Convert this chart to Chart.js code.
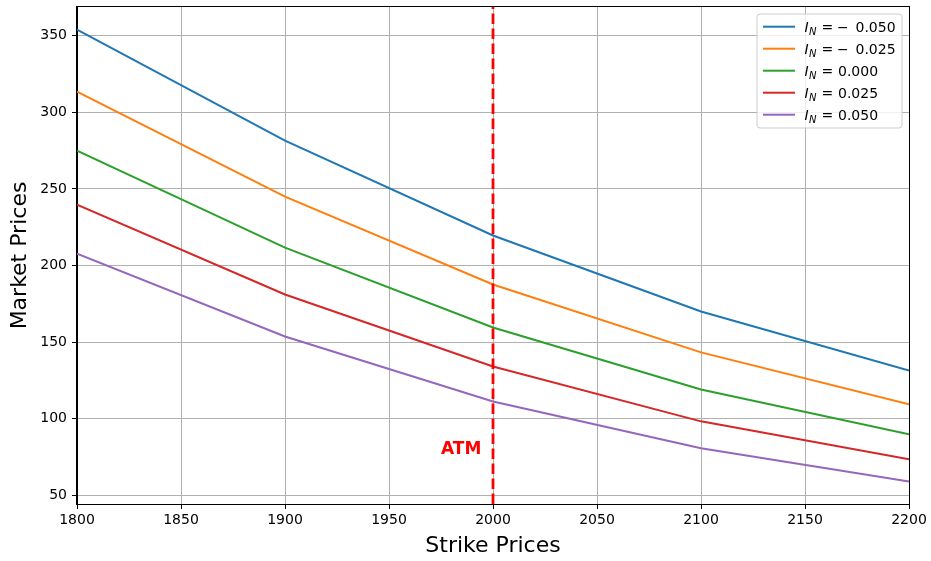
<!DOCTYPE html>
<html>
<head>
<meta charset="utf-8">
<script src="https://cdn.jsdelivr.net/npm/chart.js@4/dist/chart.umd.min.js"></script>
<style>
  html, body { margin: 0; padding: 0; background: #ffffff; }
  #wrap { width: 931px; height: 561px; }
</style>
</head>
<body>
<div id="wrap"><canvas id="chart" width="931" height="561"></canvas></div>
<script>
// Strike prices (x) and market prices for each I_N level
const strikes = [1800, 1900, 2000, 2100, 2200];
const levels = [-0.050, -0.025, 0.000, 0.025, 0.050];
const priceNeg050 = [354.0, 281.5, 219.6, 170.0, 131.5];
const priceNeg025 = [313.5, 245.0, 187.6, 143.3, 109.4];
const priceZero   = [275.0, 211.7, 159.6, 119.1, 89.8];
const pricePos025 = [239.8, 181.1, 134.1, 98.3, 73.5];
const pricePos050 = [207.8, 153.7, 111.3, 80.7, 59.1];
const seriesColors = ['#1f77b4', '#ff7f0e', '#2ca02c', '#d62728', '#9467bd'];

const xTicks = [1800, 1850, 1900, 1950, 2000, 2050, 2100, 2150, 2200];
const yTicks = [50, 100, 150, 200, 250, 300, 350];
const atmStrike = 2000;
const atmLabel = { x: 1975, y: 77, text: 'ATM' };

const FONT = "'DejaVu Sans', sans-serif";
const allSeries = [priceNeg050, priceNeg025, priceZero, pricePos025, pricePos050];

const datasets = allSeries.map((vals, i) => ({
  label: 'I_N = ' + levels[i].toFixed(3),
  data: strikes.map((s, j) => ({ x: s, y: vals[j] })),
  borderColor: seriesColors[i],
  backgroundColor: seriesColors[i],
  borderWidth: 2,
  pointRadius: 0,
  tension: 0,
  fill: false
}));

// y range padded by 5% of data span
const yMinData = Math.min(...allSeries.flat());
const yMaxData = Math.max(...allSeries.flat());
const ySpan = yMaxData - yMinData;

const overlayPlugin = {
  id: 'overlay',
  afterDatasetsDraw(chart) {
    const { ctx, chartArea: a, scales: { x, y } } = chart;
    // vertical ATM marker
    const px = x.getPixelForValue(atmStrike);
    ctx.save();
    ctx.strokeStyle = '#ff0000';
    ctx.lineWidth = 2.8;
    ctx.setLineDash([10.5, 4.5]);
    ctx.beginPath();
    ctx.moveTo(px, a.bottom);
    ctx.lineTo(px, a.top);
    ctx.stroke();
    ctx.restore();

    // ATM label
    ctx.save();
    ctx.fillStyle = '#ff0000';
    ctx.font = 'bold 17px ' + FONT;
    ctx.textAlign = 'left';
    ctx.textBaseline = 'alphabetic';
    ctx.fillText(atmLabel.text, x.getPixelForValue(atmLabel.x), y.getPixelForValue(atmLabel.y));
    ctx.restore();

    // axes frame
    ctx.save();
    ctx.strokeStyle = '#000000';
    ctx.lineWidth = 1;
    ctx.strokeRect(Math.round(a.left) - 0.5, Math.round(a.top) - 0.5,
                   Math.round(a.right - a.left) + 1, Math.round(a.bottom - a.top) + 1);
    ctx.restore();

    // legend
    const bx = 757, by = 14, bw = 145, bh = 114, r = 3;
    ctx.save();
    ctx.beginPath();
    ctx.moveTo(bx + r, by);
    ctx.arcTo(bx + bw, by, bx + bw, by + bh, r);
    ctx.arcTo(bx + bw, by + bh, bx, by + bh, r);
    ctx.arcTo(bx, by + bh, bx, by, r);
    ctx.arcTo(bx, by, bx + bw, by, r);
    ctx.closePath();
    ctx.fillStyle = 'rgba(255,255,255,0.8)';
    ctx.fill();
    ctx.strokeStyle = '#cccccc';
    ctx.lineWidth = 1;
    ctx.stroke();

    levels.forEach((lv, i) => {
      const cy = 26.7 + i * 22;
      ctx.strokeStyle = seriesColors[i];
      ctx.lineWidth = 2;
      ctx.setLineDash([]);
      ctx.beginPath();
      ctx.moveTo(763, cy);
      ctx.lineTo(795, cy);
      ctx.stroke();

      const base = cy + 5;
      ctx.fillStyle = '#000000';
      ctx.textBaseline = 'alphabetic';
      ctx.textAlign = 'left';
      ctx.font = 'italic 14px ' + FONT;
      ctx.fillText('I', 804.5, base);
      ctx.font = 'italic 10px ' + FONT;
      ctx.fillText('N', 809, base + 3);
      ctx.font = '14px ' + FONT;
      ctx.fillText('=', 821.5, base);
      const mag = Math.abs(lv).toFixed(3);
      if (lv < 0) {
        ctx.fillText('\u2212', 837, base);
        ctx.fillText(mag, 855.5, base);
      } else {
        ctx.fillText(mag, 838, base);
      }
    });
    ctx.restore();
  }
};

new Chart(document.getElementById('chart'), {
  type: 'line',
  data: { datasets },
  options: {
    responsive: false,
    animation: false,
    devicePixelRatio: 1,
    layout: { padding: { left: 0, right: 22, top: 7, bottom: 0 } },
    plugins: { legend: { display: false }, tooltip: { enabled: false } },
    scales: {
      x: {
        type: 'linear',
        min: strikes[0],
        max: strikes[strikes.length - 1],
        afterBuildTicks: s => { s.ticks = xTicks.map(v => ({ value: v })); },
        afterFit: s => { s.height = 57; s.paddingLeft = 0; s.paddingRight = 0; },
        ticks: { color: '#000000', font: { family: FONT, size: 14 }, padding: 3, maxRotation: 0, autoSkip: false,
                 callback: v => String(v) },
        grid: { color: '#b0b0b0', lineWidth: 1, tickColor: '#000000', tickLength: 5, tickWidth: 1 },
        border: { display: true, color: '#000000', width: 1 },
        title: { display: true, text: 'Strike Prices', color: '#000000', font: { family: FONT, size: 22 }, padding: { top: 0, bottom: 2 } }
      },
      y: {
        type: 'linear',
        min: yMinData - 0.05 * ySpan,
        max: yMaxData + 0.05 * ySpan,
        afterBuildTicks: s => { s.ticks = yTicks.map(v => ({ value: v })); },
        afterFit: s => { s.width = 77; s.paddingTop = 0; s.paddingBottom = 0; },
        ticks: { color: '#000000', font: { family: FONT, size: 14 }, padding: 5, autoSkip: false,
                 callback: v => String(v) },
        grid: { color: '#b0b0b0', lineWidth: 1, tickColor: '#000000', tickLength: 5, tickWidth: 1 },
        border: { display: true, color: '#000000', width: 1 },
        title: { display: true, text: 'Market Prices', color: '#000000', font: { family: FONT, size: 22 }, padding: { top: 7, bottom: 0 } }
      }
    }
  },
  plugins: [overlayPlugin]
});
</script>
</body>
</html>
